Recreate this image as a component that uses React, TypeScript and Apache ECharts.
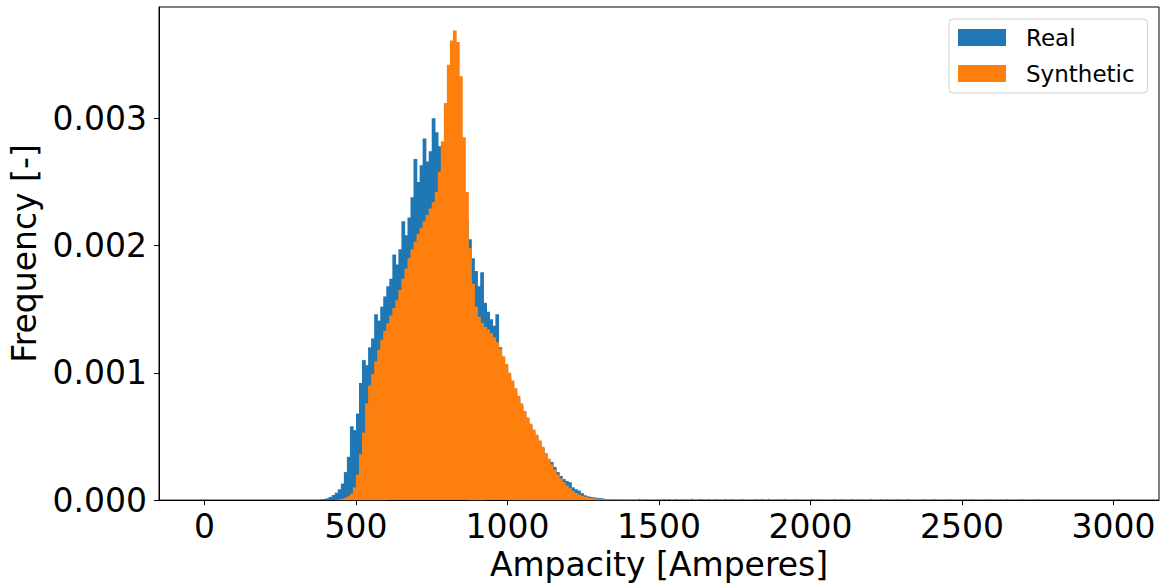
import { useEffect, useRef } from "react";
import * as echarts from "echarts";

// Histogram densities in units of 0.001 (1/Ampere)
const SCALE = 0.001;
const BIN_START = 380;
const BIN_WIDTH = 10;

const realValues = [
  0.004, 0.008, 0.014, 0.025, 0.04, 0.058, 0.085, 0.13, 0.22, 0.34,
  0.58, 0.55, 0.68, 0.92, 1.1, 1.06, 1.2, 1.27, 1.46, 1.41,
  1.52, 1.6, 1.68, 1.74, 1.93, 1.85, 1.97, 2.19, 2.08, 2.22,
  2.38, 2.68, 2.5, 2.63, 2.84, 2.66, 2.74, 3.0, 2.89, 2.78,
  2.6, 2.55, 2.5, 2.45, 2.4, 2.35, 2.3, 2.25, 2.2, 2.05,
  1.9, 1.8, 1.68, 1.79, 1.55, 1.48, 1.42, 1.37, 1.46, 1.2,
  1.12, 1.05, 0.98, 0.92, 0.86, 0.8, 0.74, 0.69, 0.64, 0.59,
  0.54, 0.5, 0.46, 0.41, 0.36, 0.32, 0.3, 0.26, 0.22, 0.19,
  0.165, 0.15, 0.14, 0.1, 0.085, 0.075, 0.055, 0.038, 0.03, 0.025,
  0.021, 0.018, 0.016, 0.012, 0.008, 0.006, 0.004, 0.003, 0.002, 0.002,
  0.0015, 0.001, 0.001, 0, 0.001, 0, 0, 0.001, 0, 0,
  0, 0,
];

const syntheticValues = [
  0, 0, 0, 0, 0, 0.002, 0.005, 0.01, 0.018, 0.03,
  0.05, 0.1, 0.2, 0.36, 0.53, 0.76, 0.9, 0.99, 1.09, 1.18,
  1.26, 1.33, 1.39, 1.45, 1.51, 1.57, 1.65, 1.74, 1.82, 1.9,
  1.97, 2.03, 2.09, 2.14, 2.19, 2.24, 2.29, 2.34, 2.42, 2.58,
  2.82, 3.12, 3.42, 3.61, 3.69, 3.6, 3.33, 2.85, 2.42, 1.98,
  1.7, 1.52, 1.44, 1.39, 1.36, 1.34, 1.31, 1.28, 1.24, 1.19,
  1.13, 1.07, 1.0, 0.94, 0.88, 0.82, 0.76, 0.7, 0.65, 0.6,
  0.555, 0.515, 0.47, 0.42, 0.37, 0.325, 0.28, 0.24, 0.2, 0.17,
  0.14, 0.115, 0.093, 0.072, 0.056, 0.044, 0.034, 0.027, 0.021, 0.017,
  0.014, 0.011, 0.009, 0.007, 0.006, 0.005, 0.004, 0.0035, 0.003, 0.003,
  0.0025, 0.002, 0.002, 0.002, 0.0015, 0.001, 0, 0, 0, 0,
  0, 0,
];

// Sparse far tail of the real data (bin centres, values in 0.001)
const TAIL_WIDTH = 3;
const realTailCenters = [
  1435, 1457, 1517, 1533, 1555, 1577, 1610, 1635, 1643, 1665,
  1687, 1719, 1741, 1774, 1818, 1840, 1862, 1894, 1916, 1949,
  2004, 2025, 2080, 2102, 2135, 2168, 2200, 2233, 2255, 2288,
  2321, 2376, 2408, 2460, 2530, 2590, 2650, 2700, 2750,
];
const realTailValues = [
  0.01, 0.008, 0.01, 0.008, 0.01, 0.008, 0.012, 0.01, 0.008, 0.01,
  0.008, 0.01, 0.008, 0.01, 0.008, 0.01, 0.01, 0.008, 0.01, 0.008,
  0.01, 0.008, 0.01, 0.008, 0.01, 0.008, 0.01, 0.008, 0.01, 0.008,
  0.01, 0.008, 0.01, 0.008, 0.008, 0.008, 0.008, 0.008, 0.008,
];

const xTicks = [0, 500, 1000, 1500, 2000, 2500, 3000];
const yTicks = [0, 0.001, 0.002, 0.003];

const BLUE = "#1f77b4";
const ORANGE = "#ff7f0e";
const FONT = "DejaVu Sans";

function toBins(values: number[]) {
  return values.map((v, i) => [
    BIN_START + i * BIN_WIDTH,
    BIN_START + (i + 1) * BIN_WIDTH,
    v * SCALE,
  ]);
}

function toTail(centers: number[], values: number[]) {
  return centers.map((c, i) => [c - TAIL_WIDTH / 2, c + TAIL_WIDTH / 2, values[i] * SCALE]);
}

// overlap (px) added on the right of each bar so adjacent bins leave no seams
const makeRenderBar = (overlap: number) => (_params: any, api: any) => {
  const x0 = api.value(0);
  const x1 = api.value(1);
  const y = api.value(2);
  const p0 = api.coord([x0, y]);
  const p1 = api.coord([x1, 0]);
  return {
    type: "rect",
    shape: { x: p0[0], y: p0[1], width: p1[0] - p0[0] + overlap, height: p1[1] - p0[1] },
    style: { fill: api.visual("color") },
  };
};

export default function App() {
  const ref = useRef<HTMLDivElement>(null);

  useEffect(() => {
    if (!ref.current) return;
    const chart = echarts.init(ref.current, undefined, { renderer: "svg" });
    const tickColor = "#000";
    chart.setOption({
      animation: false,
      backgroundColor: "#fff",
      textStyle: { fontFamily: FONT },
      grid: {
        left: 153,
        right: 12,
        top: 7,
        bottom: 84,
        show: true,
        borderColor: "#000",
        borderWidth: 1,
        backgroundColor: "transparent",
      },
      legend: {
        data: ["Real", "Synthetic"],
        orient: "vertical",
        left: 949,
        top: 19,
        icon: "rect",
        itemWidth: 48,
        itemHeight: 17,
        itemGap: 13,
        padding: [7, 13, 8, 9],
        borderColor: "#d0d0d0",
        borderWidth: 1,
        borderRadius: 4,
        backgroundColor: "rgba(255,255,255,0.8)",
        textStyle: { fontSize: 23, color: "#000", fontFamily: FONT, padding: [0, 0, 0, 15] },
      },
      xAxis: {
        type: "value",
        min: -150,
        max: 3150,
        name: "Ampacity [Amperes]",
        nameLocation: "middle",
        nameGap: 44,
        nameTextStyle: { fontSize: 33, color: "#000", fontFamily: FONT },
        axisLine: { show: true, onZero: false, lineStyle: { color: tickColor, width: 1 } },
        axisTick: { show: true, length: 5, lineStyle: { color: tickColor }, customValues: xTicks },
        axisLabel: {
          fontSize: 33,
          color: "#000",
          fontFamily: FONT,
          margin: 10,
          customValues: xTicks,
          formatter: (v: number) => String(v),
        },
        splitLine: { show: false },
      },
      yAxis: {
        type: "value",
        min: 0,
        max: 0.003874,
        name: "Frequency [-]",
        nameLocation: "middle",
        nameGap: 118,
        nameTextStyle: { fontSize: 33, color: "#000", fontFamily: FONT },
        axisLine: { show: true, onZero: false, lineStyle: { color: tickColor, width: 1 } },
        axisTick: { show: true, length: 5, lineStyle: { color: tickColor }, customValues: yTicks },
        axisLabel: {
          fontSize: 33,
          color: "#000",
          fontFamily: FONT,
          margin: 12,
          customValues: yTicks,
          formatter: (v: number) => v.toFixed(3),
        },
        splitLine: { show: false },
      },
      series: [
        {
          name: "Real",
          type: "custom",
          renderItem: makeRenderBar(0.7),
          itemStyle: { color: BLUE },
          encode: { x: [0, 1], y: 2 },
          data: toBins(realValues),
        },
        {
          name: "Real",
          type: "custom",
          renderItem: makeRenderBar(0),
          itemStyle: { color: BLUE },
          encode: { x: [0, 1], y: 2 },
          data: toTail(realTailCenters, realTailValues),
        },
        {
          name: "Synthetic",
          type: "custom",
          renderItem: makeRenderBar(0.7),
          itemStyle: { color: ORANGE },
          encode: { x: [0, 1], y: 2 },
          data: toBins(syntheticValues),
        },
      ],
    });
    return () => chart.dispose();
  }, []);

  return (
    <div
      ref={ref}
      style={{ position: "fixed", left: 0, top: 0, width: 1171, height: 586, background: "#fff" }}
    />
  );
}
